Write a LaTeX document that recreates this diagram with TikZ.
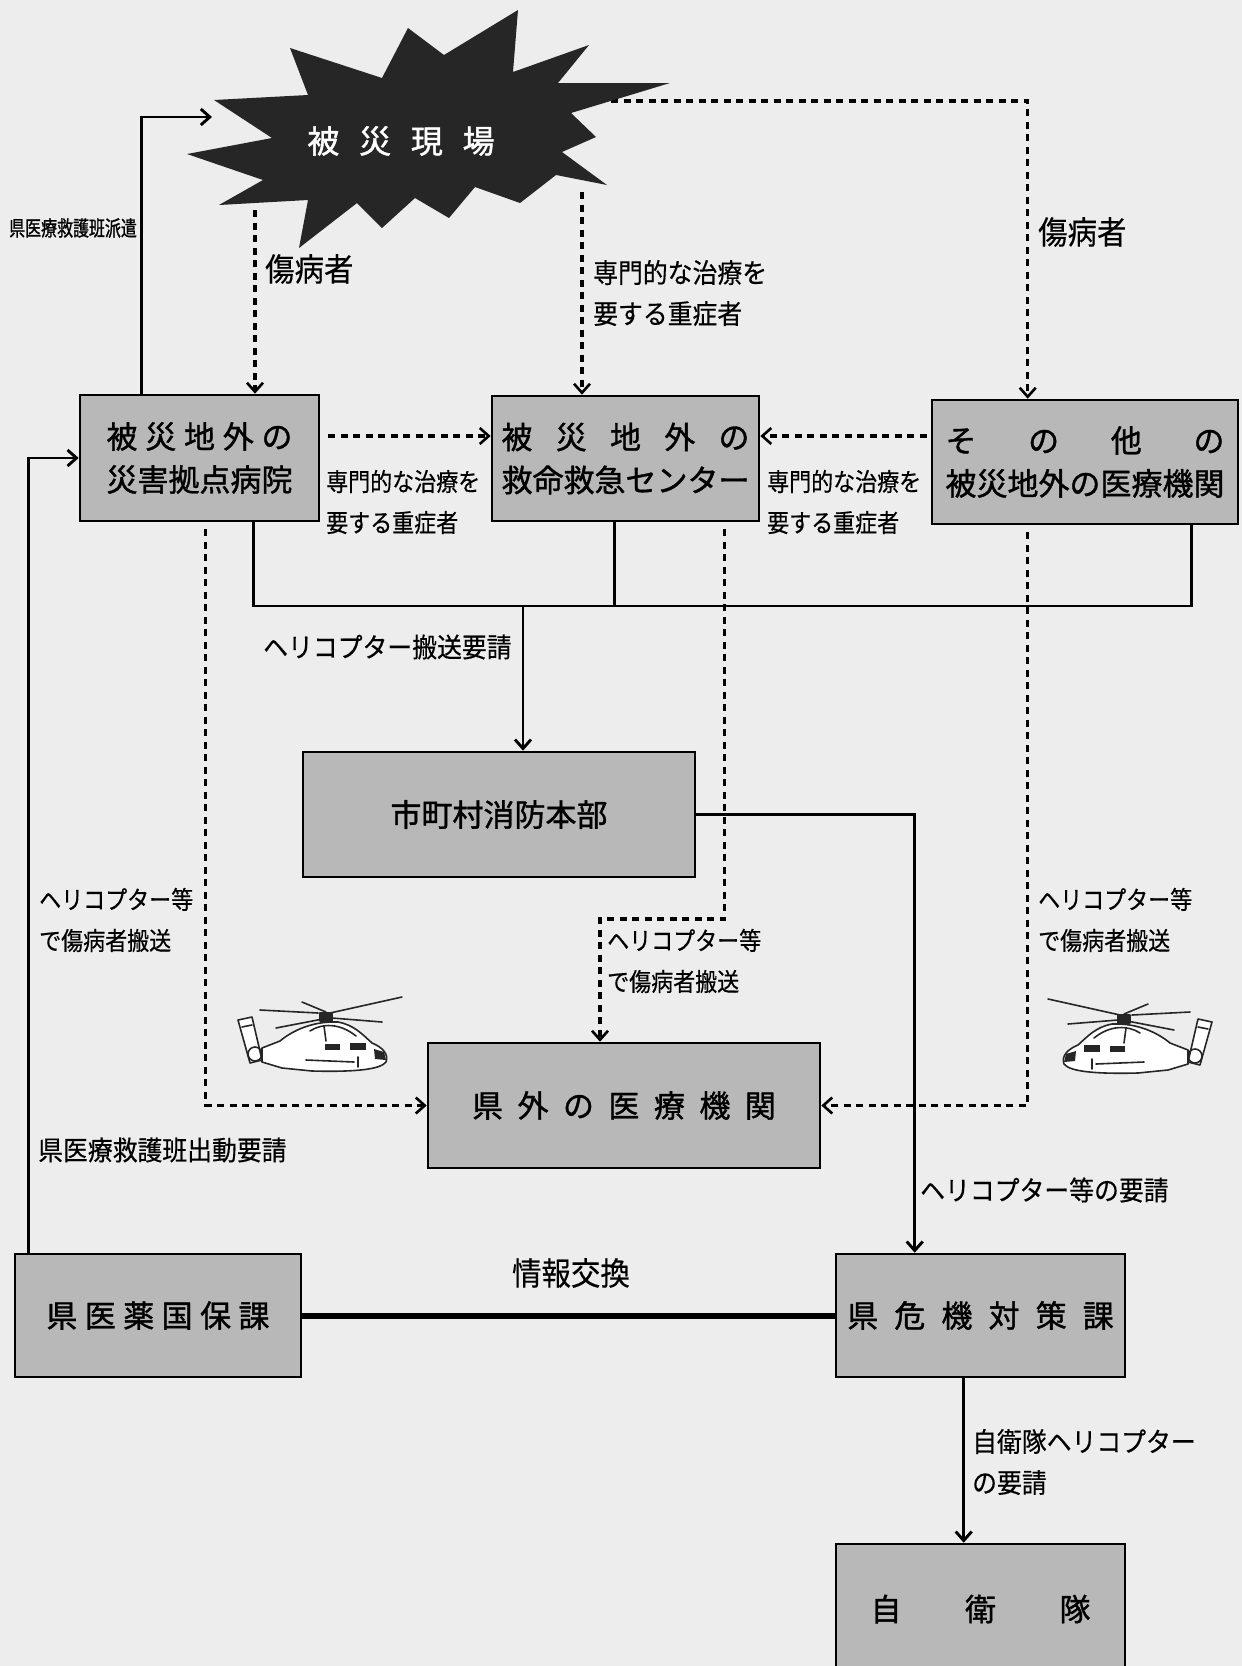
\documentclass[tikz,border=0pt]{standalone}
\usepackage{fontspec}
\usetikzlibrary{arrows.meta}
\newfontfamily\jpgoth[FakeBold=1.2]{Noto Sans CJK JP}
\newfontfamily\jplabel[FakeStretch=0.92,FakeBold=0.4]{Noto Sans CJK JP}
\newfontfamily\jpside[FakeStretch=0.88,FakeBold=0.4]{Noto Sans CJK JP}
\newfontfamily\jpnarrow[FakeStretch=0.76,FakeBold=1]{Noto Sans CJK JP}
\definecolor{paper}{RGB}{237,237,237}
\definecolor{boxgray}{RGB}{184,184,184}
\definecolor{burst}{RGB}{38,38,38}
\newcommand\bxfont{\jpgoth\fontsize{31}{43}\selectfont}
\newcommand\lbfont{\jplabel\fontsize{27}{41}\selectfont}
\newcommand\bigfont{\jplabel\fontsize{32}{41}\selectfont}
\newcommand\sdfont{\jpside\fontsize{25}{41}\selectfont}
\newcommand\spread[2]{\makebox[#1][s]{#2}}

\tikzset{
  box/.style={draw=black, line width=2.6pt, fill=boxgray, inner sep=0pt, align=center, font=\bxfont},
  ln/.style={line width=2.9pt},
  arr/.style={ln, -{Straight Barb[length=9pt,width=16pt]}},
  dsh/.style={line width=3.5pt, dash pattern=on 7pt off 5.5pt},
  darr/.style={dsh, -{Straight Barb[length=9pt,width=16pt,line width=2.6pt]}},
  lbl/.style={inner sep=0pt, font=\lbfont, align=left},
  heli/.style={line width=1.6pt, draw=black!85, line cap=round, line join=round},
  helicopter/.pic={
    % tail fin with fenestron
    \filldraw[heli, fill=white] (-74,-15) -- (-60,-18) -- (-50,25) -- (-62,28) -- cycle;
    \draw[heli] (-70,-8) -- (-60,-10);
    \draw[heli] (-57,19) circle[radius=7pt];
    % fuselage with tail boom
    \filldraw[heli, fill=white] (-50,13) -- (-32,6)
      .. controls (-20,-4) and (0,-14) .. (26,-13)
      .. controls (42,-10) and (50,-1) .. (60,8)
      .. controls (70,12) and (77,19) .. (74,27)
      .. controls (68,35) and (40,37) .. (0,36)
      -- (-30,33) -- (-50,27) -- cycle;
    % cabin glazing
    \draw[heli] (-2,-4) .. controls (10,-12) and (28,-12) .. (44,1);
    \draw[heli] (12,-9) -- (14,6);
    % windows, nose and stripe
    \fill[black!85] (13,9) rectangle (28,15);
    \fill[black!85] (38,8) rectangle (54,15);
    \fill[black!85] (62,14) -- (72,17) -- (74,25) -- (63,24) -- cycle;
    \draw[heli] (-6,25) -- (42,27);
    \draw[heli] (46,22) -- (46,32);
    % main rotor
    \draw[heli] (-52,-25) -- (6,-22);
    \draw[heli] (18,-22) -- (90,-38);
    \draw[heli] (-36,-7) -- (16,-17);
    \draw[heli] (20,-17) -- (70,-13);
    \draw[heli] (-10,-33) -- (14,-23);
    \filldraw[heli, fill=black!85] (8,-22) rectangle (20,-14);
  }
}

\begin{document}
\begin{tikzpicture}[x=1pt, y=-1pt]
  \useasboundingbox (0,0) rectangle (1242,1666);
  \fill[paper] (0,0) rectangle (1242,1666);

  % boxes
  \node[box, minimum width=239pt, minimum height=126pt] (A) at (199.5,458)
    {\spread{6em}{被\hfill 災\hfill 地\hfill 外\hfill の}\\災害拠点病院};
  \node[box, minimum width=267pt, minimum height=125pt] (B) at (625.5,458.5)
    {\spread{8em}{被\hfill 災\hfill 地\hfill 外\hfill の}\\救命救急センター};
  \node[box, minimum width=306pt, minimum height=124pt] (C) at (1085,462)
    {\spread{9em}{そ\hfill の\hfill 他\hfill の}\\被災地外の医療機関};
  \node[box, minimum width=392pt, minimum height=125pt] (D) at (499,814.5) {市町村消防本部};
  \node[box, minimum width=392pt, minimum height=125pt] (E) at (624,1105.5)
    {\spread{9.8em}{県\hfill 外\hfill の\hfill 医\hfill 療\hfill 機\hfill 関}};
  \node[box, minimum width=286pt, minimum height=123pt] (F) at (158,1315.5)
    {\spread{7.2em}{県\hfill 医\hfill 薬\hfill 国\hfill 保\hfill 課}};
  \node[box, minimum width=289pt, minimum height=123pt] (G) at (980.5,1315.5)
    {\spread{8.6em}{県\hfill 危\hfill 機\hfill 対\hfill 策\hfill 課}};
  \node[box, minimum width=289pt, minimum height=130pt] (H) at (980.5,1609)
    {\spread{7.1em}{自\hfill 衛\hfill 隊}};

  % connector anchors
  \coordinate (sA) at (212,117);
  \coordinate (s1) at (255,210);
  \coordinate (s2) at (582,192);
  \coordinate (s3) at (611,101);
  \coordinate (yAB) at (0,436);
  \coordinate (bus) at (0,606);
  \coordinate (cb) at ([xshift=-48pt]C.south east);
  \coordinate (bb) at ([xshift=124pt]B.south west);
  \coordinate (dn) at ([xshift=24pt]D.north);
  \coordinate (ad) at ([xshift=127pt,yshift=-7pt]A.south west);
  \coordinate (bd) at ([xshift=234pt,yshift=-7pt]B.south west);
  \coordinate (bturn) at (600,919);
  \coordinate (cd) at ([xshift=97pt,yshift=-7pt]C.south west);
  \coordinate (gn) at ([xshift=80pt]G.north west);
  \coordinate (gs) at ([xshift=129pt]G.south west);
  \coordinate (fa) at ([xshift=15pt]F.north west);

  % solid connectors
  \draw[arr] (fa) |- (A.west);
  \draw[arr] ([xshift=63pt]A.north west) |- (sA);
  \draw[ln] ([xshift=175pt]A.south west) |- (bus -| cb) -- (cb);
  \draw[ln] (bb) -- (bb |- bus);
  \draw[arr] (dn |- bus) -- (dn);
  \draw[arr] (D.east) -| (gn);
  \draw[line width=6pt] (F.east) -- (G.west);
  \draw[arr] (gs) -- (gs |- H.north);

  % dashed connectors
  \draw[darr] (s1) -- (s1 |- A.north);
  \draw[darr] (s2) -- (s2 |- B.north);
  \draw[darr] (s3) -| ([xshift=97pt]C.north west);
  \draw[darr, shorten <=8pt] (A.east |- yAB) -- (B.west |- yAB);
  \draw[darr, shorten <=4pt] (C.west |- yAB) -- (B.east |- yAB);
  \draw[darr] (ad) |- (E.west);
  \draw[darr] (bd) |- (bturn) -- (bturn |- E.north);
  \draw[darr] (cd) |- (E.east);

  % disaster site
  \fill[burst] (290,48) -- (382,78) -- (408,28) -- (444,55) -- (518,10) -- (513,72)
    -- (589,45) -- (558,83) -- (670,83) -- (571,113) -- (596,137) -- (562,152)
    -- (607,185) -- (556,175) -- (520,203) -- (475,187) -- (449,218) -- (415,198)
    -- (382,228) -- (357,203) -- (299,248) -- (308,200) -- (219,205) -- (263,180)
    -- (187,154) -- (272,138) -- (214,100) -- (308,95) -- cycle;
  \node[inner sep=0pt, text=white, font=\jpgoth\fontsize{32}{40}\selectfont] (S) at (401,141)
    {\spread{5.85em}{被\hfill 災\hfill 現\hfill 場}};

  % labels
  \node[lbl, anchor=west, font=\jpnarrow\fontsize{21}{24}\selectfont] (l1) at (9,228) {県医療救護班派遣};
  \node[lbl, anchor=west, font=\bigfont] (l2) at (265,269) {傷病者};
  \node[lbl, anchor=west] (l3) at (593,293) {専門的な治療を\\要する重症者};
  \node[lbl, anchor=west, font=\bigfont] (l4) at (1038,232) {傷病者};
  \node[lbl, anchor=west, font=\sdfont] (l5) at (326,502) {専門的な治療を\\要する重症者};
  \node[lbl, anchor=west, font=\sdfont] (l6) at (767,502) {専門的な治療を\\要する重症者};
  \node[lbl, anchor=west] (l7) at (263,647) {ヘリコプター搬送要請};
  \node[lbl, anchor=west, font=\sdfont] (l8) at (39,920) {ヘリコプター等\\で傷病者搬送};
  \node[lbl, anchor=west, font=\sdfont] (l9) at (607,961) {ヘリコプター等\\で傷病者搬送};
  \node[lbl, anchor=west, font=\sdfont] (l10) at (1038,920) {ヘリコプター等\\で傷病者搬送};
  \node[lbl, anchor=west] (l11) at (38,1150) {県医療救護班出動要請};
  \node[lbl, anchor=west] (l12) at (920,1190) {ヘリコプター等の要請};
  \node[lbl, font=\bigfont] (l13) at (571,1273) {情報交換};
  \node[lbl, anchor=west] (l14) at (972,1462) {自衛隊ヘリコプター\\の要請};

  % helicopters
  \pic (heliL) at (312,1035) {helicopter};
  \pic[xscale=-1] (heliR) at (1138,1037) {helicopter};
\end{tikzpicture}
\end{document}
